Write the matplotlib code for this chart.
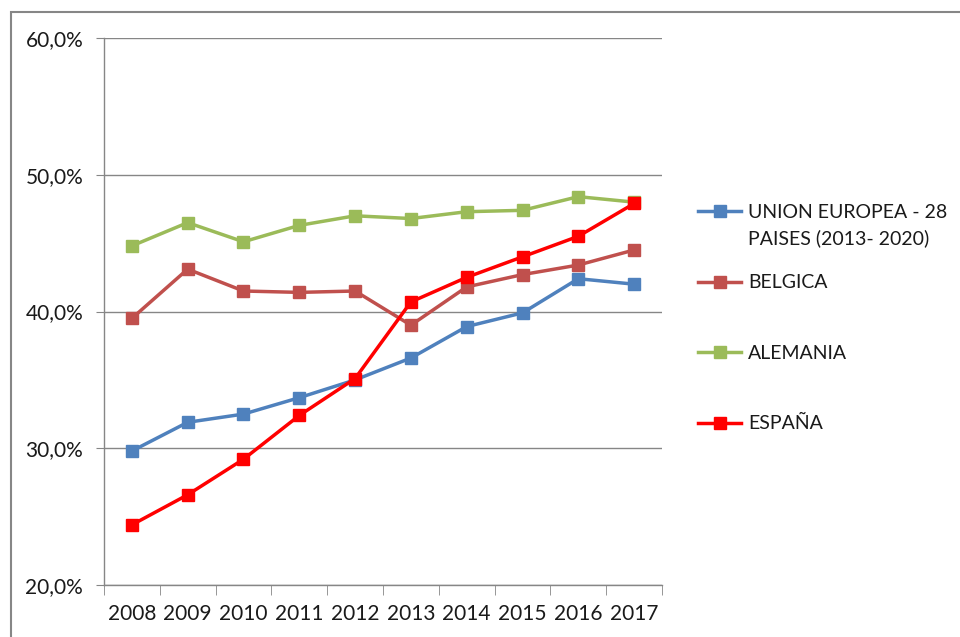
import matplotlib.pyplot as plt
from matplotlib.patches import Rectangle
from matplotlib.ticker import FuncFormatter, FixedLocator

years = ["2008", "2009", "2010", "2011", "2012", "2013", "2014", "2015", "2016", "2017"]

ue28 = [29.8, 31.9, 32.5, 33.7, 35.0, 36.6, 38.9, 39.9, 42.4, 42.0]
belgica = [39.5, 43.1, 41.5, 41.4, 41.5, 39.0, 41.8, 42.7, 43.4, 44.5]
alemania = [44.8, 46.5, 45.1, 46.3, 47.0, 46.8, 47.3, 47.4, 48.4, 48.0]
espana = [24.4, 26.6, 29.2, 32.4, 35.1, 40.7, 42.5, 44.0, 45.5, 47.9]

labels = ["UNION EUROPEA - 28", "BELGICA", "ALEMANIA", "ESPAÑA"]
ue_label_line2 = "PAISES (2013- 2020)"
colors = ["#4F81BD", "#C0504D", "#9BBB59", "#FF0000"]

plt.rcParams["font.family"] = ["Lato", "DejaVu Sans"]

fig = plt.figure(figsize=(9.6, 6.37), dpi=100)
ax = fig.add_axes([0.1083, 0.0816, 0.5813, 0.8587])

# outer chart frame
fig.patches.append(Rectangle((11 / 960, -0.05), 1.0, 1 - 12 / 637 + 0.05,
                             transform=fig.transFigure, fill=False,
                             edgecolor="#868686", linewidth=1.5))

x = list(range(len(years)))
for series, lab, col in zip([ue28, belgica, alemania, espana], labels, colors):
    ax.plot(x, series, color=col, linewidth=2.5, marker="s", markersize=8,
            label=lab, solid_joinstyle="round")

ax.set_xlim(-0.5, len(years) - 0.5)
ax.set_ylim(20, 60)
ax.set_yticks([20, 30, 40, 50, 60])
ax.yaxis.set_major_formatter(FuncFormatter(lambda v, p: f"{v:.1f}%".replace(".", ",")))
ax.set_xticks(x)
ax.set_xticklabels(years)
ax.xaxis.set_minor_locator(FixedLocator([i - 0.5 for i in range(len(years) + 1)]))
ax.tick_params(axis="x", which="major", length=0, labelsize=15, colors="#1a1a1a", pad=14)
ax.tick_params(axis="x", which="minor", length=7, color="#868686", direction="out")
ax.tick_params(axis="y", length=6, color="#868686", labelsize=15, colors="#1a1a1a", pad=9)

ax.grid(axis="y", color="#868686", linewidth=1)
ax.set_axisbelow(True)
for s in ["top", "right"]:
    ax.spines[s].set_visible(False)
for s in ["left", "bottom"]:
    ax.spines[s].set_color("#868686")
    ax.spines[s].set_linewidth(1)

leg = ax.legend(loc="upper left", bbox_to_anchor=(1.051, 0.711), frameon=False,
                fontsize=14, handlelength=2.2, handletextpad=0.35,
                labelspacing=2.75, borderaxespad=0)
for t in leg.get_texts():
    t.set_color("#1a1a1a")

# second line of the first legend label, placed under the first line
fig.canvas.draw()
bb = leg.get_texts()[0].get_window_extent()
fig.text(bb.x0 / fig.bbox.width, (bb.y0 - 26) / fig.bbox.height, ue_label_line2,
         fontsize=14, color="#1a1a1a", ha="left", va="bottom")

fig.savefig("out.png", dpi=100)
